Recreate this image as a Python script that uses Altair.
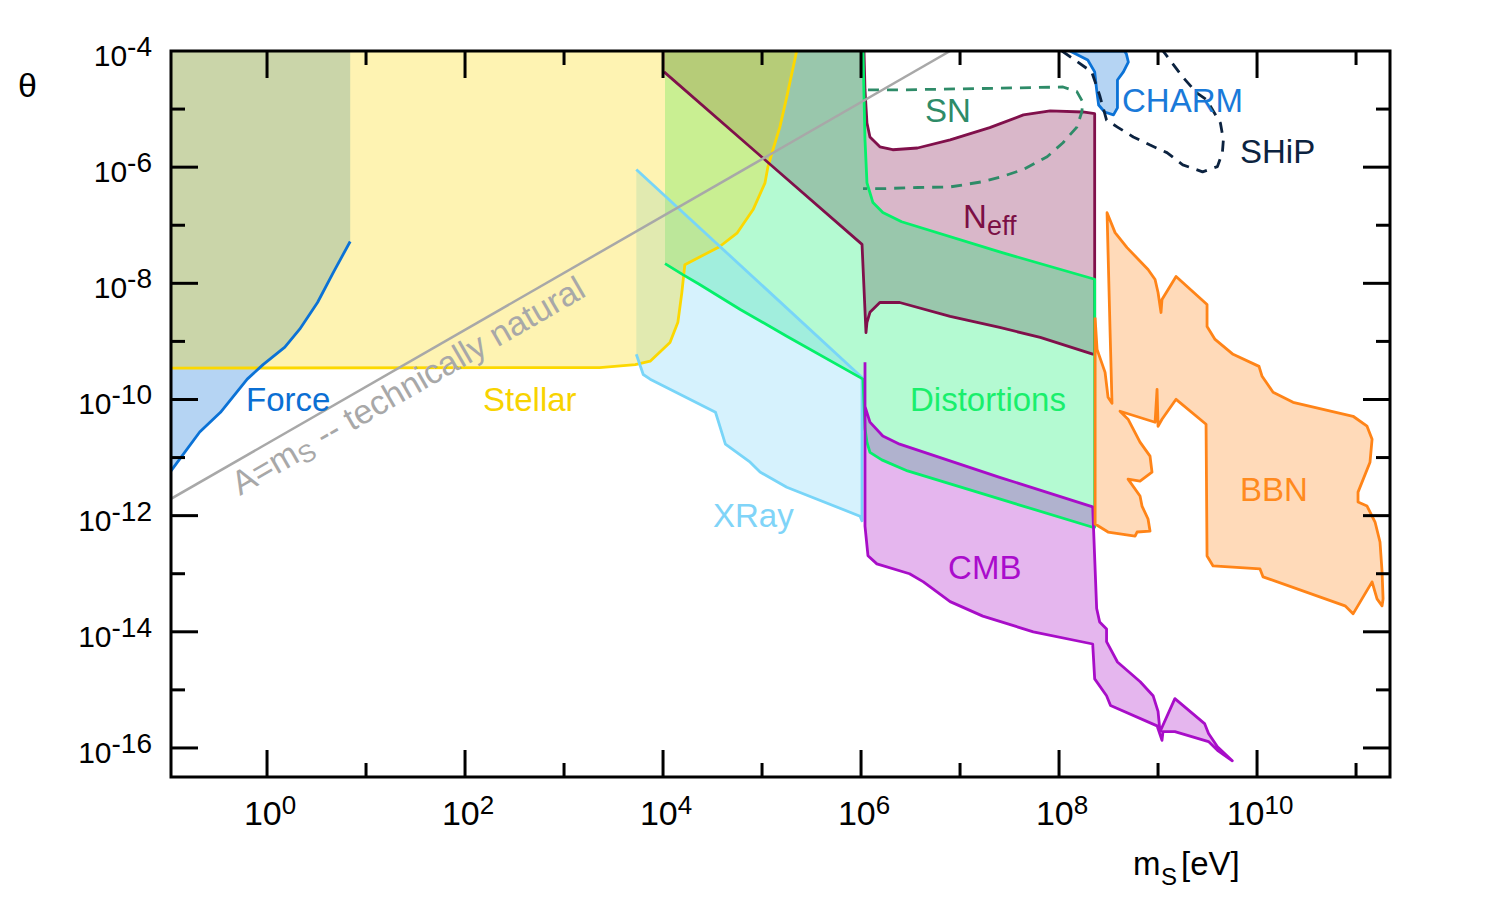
import altair as alt
import numpy as np
import pandas as pd

FONT = "Liberation Sans"

# ---------------- axis ranges (decades) ----------------
LOGM_MIN, LOGM_MAX = -0.97, 11.343
LOGT_MIN, LOGT_MAX = -16.5, -4.0
W, H = 1219, 726

# ---------------- boundaries: log10(m_S / eV), log10(theta) ----------------
FORCE_LM = [-0.97, -0.68, -0.47, -0.20, -0.04, 0.18, 0.33, 0.51, 0.67, 0.84]
FORCE_LT = [-11.23, -10.56, -10.22, -9.65, -9.40, -9.10, -8.79, -8.33, -7.81, -7.28]
FORCE_CORNER_LM = [0.84, -0.97]
FORCE_CORNER_LT = [-4.0, -4.0]

STELLAR_LM = [-0.97, 3.36, 3.72, 3.87, 4.07, 4.15, 4.19, 4.22, 4.57, 4.75, 4.91,
              5.03, 5.06, 5.11, 5.18, 5.25, 5.35]
STELLAR_LT = [-9.46, -9.45, -9.40, -9.34, -9.02, -8.67, -8.16, -7.68, -7.37, -7.13, -6.73,
              -6.27, -5.99, -5.70, -5.31, -4.79, -4.0]
STELLAR_CORNER_LM = [-0.97]
STELLAR_CORNER_LT = [-4.0]

XRAY_LM = [3.73, 6.01, 6.01, 5.99, 5.25, 4.98, 4.88, 4.63, 4.53, 3.87, 3.80, 3.73]
XRAY_LT = [-6.04, -9.62, -12.09, -12.01, -11.51, -11.25, -11.08, -10.77, -10.22, -9.65, -9.57, -9.22]

DIST_LM = [4.02, 4.20, 4.37, 4.78, 5.25, 6.02, 6.04, 6.06, 6.09, 6.21, 6.47, 8.34, 8.36,
           8.36, 7.40, 6.41, 6.22, 6.12, 6.06, 6.04, 6.02]
DIST_LT = [-7.66, -7.85, -8.02, -8.45, -8.91, -9.65, -10.50, -10.74, -10.91, -11.04, -11.23, -12.20, -12.20,
           -7.93, -7.46, -6.94, -6.78, -6.61, -6.27, -5.53, -4.0]
DIST_CORNER_LM = [4.02]
DIST_CORNER_LT = [-4.0]

NEFF_LM = [4.01, 6.01, 6.05, 6.06, 6.09, 6.19, 6.39, 6.90, 7.40, 7.81, 8.34, 8.36,
           8.36, 8.24, 7.91, 7.64, 7.30, 6.90, 6.57, 6.32, 6.19, 6.09, 6.06, 6.04, 6.03]
NEFF_LT = [-4.36, -7.33, -8.85, -8.67, -8.50, -8.33, -8.33, -8.57, -8.76, -8.93, -9.22, -9.22,
           -5.08, -5.05, -5.03, -5.10, -5.32, -5.53, -5.67, -5.70, -5.65, -5.48, -5.24, -4.67, -4.0]
NEFF_CORNER_LM = [4.01]
NEFF_CORNER_LT = [-4.0]

CMB_LM = [6.04, 6.04, 6.09, 6.22, 6.39, 7.40, 8.34, 8.38, 8.41, 8.48, 8.48, 8.59, 8.82, 8.95,
          9.00, 9.02, 9.17, 9.47, 9.51, 9.60, 9.75,
          9.60, 9.51, 9.17, 9.05, 9.04, 8.99, 8.52, 8.48, 8.36, 8.34, 7.74, 7.23, 6.90, 6.63,
          6.49, 6.16, 6.07, 6.04, 6.04]
CMB_LT = [-9.36, -10.12, -10.39, -10.63, -10.77, -11.34, -11.85, -13.60, -13.83, -13.95, -14.17, -14.52, -14.86, -15.10,
          -15.37, -15.72, -15.15, -15.58, -15.75, -15.98, -16.22,
          -16.04, -15.89, -15.72, -15.72, -15.87, -15.62, -15.27, -15.10, -14.81, -14.21, -14.00, -13.73, -13.48, -13.14,
          -13.00, -12.83, -12.69, -12.18, -9.36]

BBN_LM = [8.364, 8.384, 8.465, 8.495, 8.535, 8.515, 8.485, 8.566, 8.687, 8.899, 8.970, 9.000,
          9.030, 9.040, 9.182, 9.495, 9.495, 9.576, 9.758, 10.020, 10.051, 10.162, 10.364,
          10.970, 11.111, 11.162, 11.141, 11.020, 11.020, 11.111, 11.192, 11.242, 11.263,
          11.273, 11.263, 11.212, 11.162, 10.970, 10.889, 10.061, 10.030, 9.556, 9.495,
          9.485, 9.182, 9.040, 9.000, 8.990, 8.970, 8.616, 8.697, 8.818, 8.919, 8.939,
          8.818, 8.697, 8.818, 8.838, 8.899, 8.919, 8.788, 8.768, 8.495, 8.364, 8.364]
BBN_LT = [-8.588, -9.137, -9.533, -9.962, -10.065, -8.794, -6.784, -7.127, -7.385, -7.763, -7.935, -8.158,
          -8.502, -8.278, -7.883, -8.364, -8.742, -8.966, -9.223, -9.430, -9.601, -9.876, -10.048,
          -10.289, -10.460, -10.684, -11.079, -11.595, -11.766, -11.835, -12.110, -12.454, -12.969,
          -13.433, -13.553, -13.433, -13.141, -13.691, -13.553, -13.055, -12.918, -12.866, -12.694,
          -10.426, -9.997, -10.340, -10.460, -9.825, -10.392, -10.203, -10.340, -10.735, -10.976, -11.251,
          -11.405, -11.371, -11.663, -11.835, -12.058, -12.265, -12.282, -12.351, -12.282, -12.144, -8.588]

CHARM_LM = [8.11, 8.29, 8.36, 8.38, 8.40, 8.46, 8.55, 8.59, 8.59, 8.65, 8.70, 8.68, 8.66, 8.11]
CHARM_LT = [-4.0, -4.155, -4.36, -4.67, -4.93, -5.05, -5.10, -4.98, -4.50, -4.36, -4.19, -4.05, -4.0, -4.0]

SN_LM = [6.07, 6.39, 7.40, 8.04, 8.18, 8.24, 8.23, 8.18, 8.04, 7.88, 7.64, 7.43, 7.23, 6.90, 6.57, 6.22, 6.02]
SN_LT = [-4.67, -4.67, -4.64, -4.62, -4.70, -4.88, -5.05, -5.31, -5.58, -5.82, -6.04, -6.16, -6.25, -6.34, -6.35, -6.37, -6.37]

SHIP_LM = [8.03, 8.16, 8.33, 8.41, 8.48, 8.59, 8.75, 8.92, 9.09, 9.25, 9.45, 9.60, 9.65, 9.66,
           9.63, 9.49, 9.39, 9.25, 9.12, 9.05]
SHIP_LT = [-4.0, -4.155, -4.36, -4.76, -5.19, -5.31, -5.48, -5.62, -5.75, -5.96, -6.08, -5.99, -5.75, -5.53,
           -5.24, -4.84, -4.72, -4.45, -4.155, -4.0]

NATURAL_LM = [-0.97, 6.90]
NATURAL_LT = [-11.71, -4.0]

# region labels: text, log m, log theta (left / baseline anchor), colour
LABEL_TEXT = ["Force", "Stellar", "XRay", "Distortions", "CMB", "BBN", "N", "SN", "CHARM", "SHiP"]
LABEL_LM = [-0.212, 2.182, 4.505, 6.495, 6.879, 9.828, 7.030, 6.646, 8.636, 9.828]
LABEL_LT = [-10.203, -10.203, -12.196, -10.203, -13.089, -11.749, -7.041, -5.220, -5.048, -5.924]
LABEL_COLOR = ["#0b6fd3", "#f8d300", "#80d4f8", "#19ef6c", "#aa0ccc", "#ff8a1e", "#7b0f45",
               "#2e8b68", "#1a7ad9", "#0c2340"]

X_TICKS = list(range(0, 12))
Y_TICKS = list(range(-16, -4))
X_LABEL_EXP = [0, 2, 4, 6, 8, 10]
Y_LABEL_EXP = [-4, -6, -8, -10, -12, -14, -16]

# ---------------- colours (line colour; fills are the same colour at 30 %) ----------------
C = {
    "force": "#0b72d6",
    "stellar": "#fcd800",
    "xray": "#78d5f8",
    "dist": "#05f06a",
    "neff": "#80104b",
    "cmb": "#a80dc8",
    "bbn": "#ff8418",
    "charm": "#0b72d6",
}
FILL_OPACITY = 0.3


def frame(lm, lt):
    lm = np.asarray(lm, float)
    lt = np.asarray(lt, float)
    return pd.DataFrame({"m": 10.0 ** lm, "theta": 10.0 ** lt, "i": np.arange(len(lm))})


xs = alt.Scale(type="log", domain=[10 ** LOGM_MIN, 10 ** LOGM_MAX], nice=False)
ys = alt.Scale(type="log", domain=[10 ** LOGT_MIN, 10 ** LOGT_MAX], nice=False)
X = alt.X("m:Q", scale=xs, axis=None)
Y = alt.Y("theta:Q", scale=ys, axis=None)
O = alt.Order("i:Q")


def fill_layer(df, color):
    return alt.Chart(df).mark_line(fill=color, fillOpacity=FILL_OPACITY, strokeOpacity=0, strokeWidth=0,
                                   clip=True).encode(x=X, y=Y, order=O)


def line_layer(df, color, width=2.8, dash=None):
    kw = dict(color=color, strokeWidth=width, clip=True, strokeJoin="round")
    if dash:
        kw["strokeDash"] = dash
    return alt.Chart(df).mark_line(**kw).encode(x=X, y=Y, order=O)


force_line = frame(FORCE_LM, FORCE_LT)
force_fill = frame(FORCE_LM + FORCE_CORNER_LM, FORCE_LT + FORCE_CORNER_LT)
stellar_line = frame(STELLAR_LM, STELLAR_LT)
stellar_fill = frame(STELLAR_LM + STELLAR_CORNER_LM, STELLAR_LT + STELLAR_CORNER_LT)
xray = frame(XRAY_LM, XRAY_LT)
dist_line = frame(DIST_LM, DIST_LT)
dist_fill = frame(DIST_LM + DIST_CORNER_LM, DIST_LT + DIST_CORNER_LT)
neff_line = frame(NEFF_LM, NEFF_LT)
neff_fill = frame(NEFF_LM + NEFF_CORNER_LM, NEFF_LT + NEFF_CORNER_LT)
cmb = frame(CMB_LM, CMB_LT)
bbn = frame(BBN_LM, BBN_LT)
charm = frame(CHARM_LM, CHARM_LT)
sn = frame(SN_LM, SN_LT)
ship = frame(SHIP_LM, SHIP_LT)
natural = frame(NATURAL_LM, NATURAL_LT)

layers = [
    fill_layer(neff_fill, C["neff"]),
    fill_layer(dist_fill, C["dist"]),
    fill_layer(xray, C["xray"]),
    fill_layer(cmb, C["cmb"]),
    fill_layer(force_fill, C["force"]),
    fill_layer(stellar_fill, C["stellar"]),
    fill_layer(bbn, C["bbn"]),
    fill_layer(charm, C["charm"]),
    line_layer(stellar_line, C["stellar"]),
    line_layer(force_line, C["force"]),
    line_layer(xray, C["xray"]),
    line_layer(neff_line, C["neff"]),
    line_layer(dist_line, C["dist"]),
    line_layer(cmb, C["cmb"]),
    line_layer(bbn, C["bbn"]),
    line_layer(charm, C["charm"]),
    line_layer(sn, "#2e8b68", 2.8, [11, 8]),
    line_layer(ship, "#0c2340", 2.8, [11, 8]),
    line_layer(natural, "#a8a8a8", 2.5),
]

# ---------------- region labels ----------------
lab = pd.DataFrame({"m": 10.0 ** np.array(LABEL_LM), "theta": 10.0 ** np.array(LABEL_LT),
                    "t": LABEL_TEXT, "c": LABEL_COLOR})
layers.append(alt.Chart(lab).mark_text(align="left", baseline="alphabetic", font=FONT, fontSize=33)
              .encode(x=X, y=Y, text="t:N", color=alt.Color("c:N", scale=None)))
neff_sub = lab[lab.t == "N"].assign(t="eff")
layers.append(alt.Chart(neff_sub).mark_text(align="left", baseline="alphabetic", font=FONT, fontSize=27,
                                            dx=24, dy=7)
              .encode(x=X, y=Y, text="t:N", color=alt.Color("c:N", scale=None)))

# technically-natural label along the grey line
nat_lab = pd.DataFrame({"m": [10 ** -0.273], "theta": [10 ** -11.663]})
for txt, size, dx, dy in [("A=m", 34, 0, 0), ("S", 25, 71, 5), ("-- technically natural", 34, 97, 0)]:
    layers.append(alt.Chart(nat_lab).mark_text(text=txt, align="left", baseline="alphabetic", font=FONT,
                                               fontSize=size, angle=330, dx=dx, dy=dy, color="#a8a8a8")
                  .encode(x=X, y=Y))

# ---------------- ticks (inside, all four sides) ----------------
xt_long = pd.DataFrame({"m": [10.0 ** k for k in X_TICKS if k % 2 == 0]})
xt_short = pd.DataFrame({"m": [10.0 ** k for k in X_TICKS if k % 2 != 0]})
yt_long = pd.DataFrame({"theta": [10.0 ** k for k in Y_TICKS if k % 2 == 0]})
yt_short = pd.DataFrame({"theta": [10.0 ** k for k in Y_TICKS if k % 2 != 0]})
for df, ln in [(xt_long, 27), (xt_short, 14)]:
    layers.append(alt.Chart(df).mark_rule(color="black", strokeWidth=3)
                  .encode(x=X, y=alt.value(0), y2=alt.value(ln)))
    layers.append(alt.Chart(df).mark_rule(color="black", strokeWidth=3)
                  .encode(x=X, y=alt.value(H), y2=alt.value(H - ln)))
for df, ln in [(yt_long, 27), (yt_short, 14)]:
    layers.append(alt.Chart(df).mark_rule(color="black", strokeWidth=3)
                  .encode(y=Y, x=alt.value(0), x2=alt.value(ln)))
    layers.append(alt.Chart(df).mark_rule(color="black", strokeWidth=3)
                  .encode(y=Y, x=alt.value(W), x2=alt.value(W - ln)))

# frame
box = pd.DataFrame({"a": [0]})
layers.append(alt.Chart(box).mark_rect(fillOpacity=0, stroke="black", strokeWidth=3)
              .encode(x=alt.value(0), x2=alt.value(W), y=alt.value(0), y2=alt.value(H)))

# ---------------- tick labels ----------------
Y_BASE, Y_EXP = 30, 28
Y_RIGHT = -19
for group in ([e for e in Y_LABEL_EXP if e > -10], [e for e in Y_LABEL_EXP if e <= -10]):
    df = pd.DataFrame({"theta": [10.0 ** e for e in group], "e": [str(e) for e in group]})
    wexp = (0.333 + 0.556 * (len(str(group[0])) - 1)) * Y_EXP
    layers.append(alt.Chart(df).mark_text(text="10", align="right", baseline="alphabetic", font=FONT,
                                          fontSize=Y_BASE, dy=15, color="black")
                  .encode(y=Y, x=alt.value(Y_RIGHT - wexp)))
    layers.append(alt.Chart(df).mark_text(align="right", baseline="alphabetic", font=FONT,
                                          fontSize=Y_EXP, dy=5, color="black")
                  .encode(y=Y, x=alt.value(Y_RIGHT), text="e:N"))

X_BASE, X_EXP = 34, 26
for group in ([e for e in X_LABEL_EXP if e < 10], [e for e in X_LABEL_EXP if e >= 10]):
    df = pd.DataFrame({"m": [10.0 ** e for e in group], "e": [str(e) for e in group]})
    wb = 1.112 * X_BASE
    we = 0.556 * len(str(group[0])) * X_EXP
    off = (wb - we) / 2 + 3
    layers.append(alt.Chart(df).mark_text(text="10", align="right", baseline="alphabetic", font=FONT,
                                          fontSize=X_BASE, dx=off, color="black")
                  .encode(x=X, y=alt.value(774)))
    layers.append(alt.Chart(df).mark_text(align="left", baseline="alphabetic", font=FONT,
                                          fontSize=X_EXP, dx=off, color="black")
                  .encode(x=X, y=alt.value(763), text="e:N"))

# ---------------- axis titles ----------------
for txt, size, px, py in [("θ", 34, -153, 46), ("m", 33, 962, 824), ("S", 24, 990, 834), ("[eV]", 33, 1010, 824)]:
    layers.append(alt.Chart(box).mark_text(text=txt, align="left", baseline="alphabetic", font=FONT,
                                           fontSize=size, color="black")
                  .encode(x=alt.value(px), y=alt.value(py)))

chart = alt.layer(*layers).properties(
    width=W, height=H,
    autosize=alt.AutoSizeParams(type="none"),
    padding={"left": 171, "top": 51, "right": 110, "bottom": 123},
    background="white",
).configure_view(stroke=None)

chart.save("out.html", embed_options={"renderer": "svg", "actions": False})
